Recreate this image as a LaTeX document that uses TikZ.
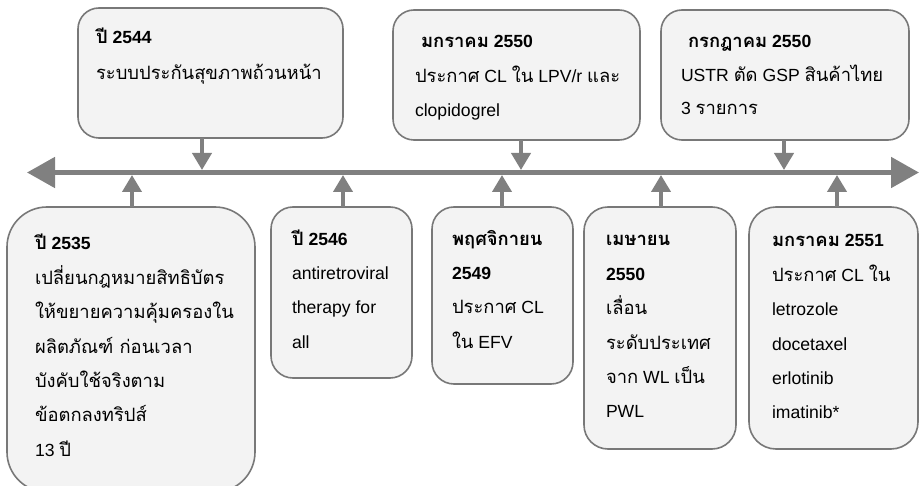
\documentclass[tikz,border=0pt]{standalone}
\usepackage{fontspec}
\setmainfont{Liberation Sans}
\newfontfamily\thaifont[Script=Thai,Scale=1.045]{Loma}
\usetikzlibrary{arrows.meta}
\definecolor{linegray}{HTML}{808080}
\definecolor{boxfill}{HTML}{F3F3F3}
\definecolor{boxline}{HTML}{787878}
\newcommand\tha[1]{{\thaifont #1}}
\newcommand\lns[2][34.4pt]{\vtop{\baselineskip=#1\lineskiplimit=-100pt\lineskip=0pt\halign{##\hfil\cr#2\crcr}}}
\tikzset{
  evbox/.style={draw=boxline, line width=1.6pt, fill=boxfill, inner sep=0pt, outer sep=0pt, anchor=north west},
  txt/.style={anchor=base west, inner sep=0pt, outer sep=0pt, font=\fontsize{17.6}{34.4}\selectfont, text=black},
  axisline/.style={draw=linegray, line width=5pt, {Triangle[length=28pt,width=30pt]}-{Triangle[length=28pt,width=30pt]}},
  conn/.style={draw=linegray, line width=4pt, -{Triangle[length=17pt,width=19pt]}}
}
\begin{document}
\begin{tikzpicture}[x=1pt,y=-1pt]
\useasboundingbox (0,0) rectangle (920,486);
\clip (0,0) rectangle (920,486);
% axis
\coordinate (axL) at (27,172.5);
\coordinate (axR) at (919,172.5);
\draw[axisline] (axL) -- (axR);
% top boxes
\node[evbox, rounded corners=21pt, minimum width=265pt, minimum height=130pt] (t1) at (78,8) {};
\node[evbox, rounded corners=21pt, minimum width=247pt, minimum height=130pt] (t2) at (393,10) {};
\node[evbox, rounded corners=21pt, minimum width=248pt, minimum height=130pt] (t3) at (661,10) {};
% bottom boxes
\node[evbox, rounded corners=40pt, minimum width=248pt, minimum height=285pt] (b1) at (7,207) {};
\node[evbox, rounded corners=22pt, minimum width=141pt, minimum height=171pt] (b2) at (271,207) {};
\node[evbox, rounded corners=22pt, minimum width=141pt, minimum height=177pt] (b3) at (432,207) {};
\node[evbox, rounded corners=24pt, minimum width=152pt, minimum height=242pt] (b4) at (584,207) {};
\node[evbox, rounded corners=27pt, minimum width=169pt, minimum height=242pt] (b5) at (749,207) {};
% arrow end points on the axis
\coordinate (p1) at (202,170);
\coordinate (p2) at (521,170);
\coordinate (p3) at (784,170);
\coordinate (q1) at (132,175);
\coordinate (q2) at (343,175);
\coordinate (q3) at (502,175);
\coordinate (q4) at (661,175);
\coordinate (q5) at (837,175);
\draw[conn] (t1.south -| p1) -- (p1);
\draw[conn] (t2.south -| p2) -- (p2);
\draw[conn] (t3.south -| p3) -- (p3);
\draw[conn] (b1.north -| q1) -- (q1);
\draw[conn] (b2.north -| q2) -- (q2);
\draw[conn] (b3.north -| q3) -- (q3);
\draw[conn] (b4.north -| q4) -- (q4);
\draw[conn] (b5.north -| q5) -- (q5);
% texts
\node[txt] (t1t) at (96,44) {\lns[36pt]{\bfseries\tha{ปี} 2544\cr \tha{ระบบประกันสุขภาพถ้วนหน้า}}};
\node[txt] (t2t) at (415,48) {\lns{\hspace*{6pt}\bfseries\tha{มกราคม} 2550\cr \tha{ประกาศ} CL \tha{ใน} LPV/r \tha{และ}\cr clopidogrel}};
\node[txt] (t3t) at (681,48) {\lns[33.5pt]{\hspace*{7pt}\bfseries\tha{กรกฎาคม} 2550\cr USTR \tha{ตัด} GSP \tha{สินค้าไทย}\cr 3 \tha{รายการ}}};
\node[txt] (b1t) at (35,250) {\lns{\bfseries\tha{ปี} 2535\cr \tha{เปลี่ยนกฎหมายสิทธิบัตร}\cr \tha{ให้ขยายความคุ้มครองใน}\cr \tha{ผลิตภัณฑ์ ก่อนเวลา}\cr \tha{บังคับใช้จริงตาม}\cr \tha{ข้อตกลงทริปส์}\cr 13 \tha{ปี}}};
\node[txt] (b2t) at (292,245) {\lns{\bfseries\tha{ปี} 2546\cr antiretroviral\cr therapy for\cr all}};
\node[txt] (b3t) at (452,245) {\lns{\bfseries\tha{พฤศจิกายน}\cr \bfseries 2549\cr \tha{ประกาศ} CL\cr \tha{ใน} EFV}};
\node[txt] (b4t) at (606,246) {\lns{\bfseries\tha{เมษายน}\cr \bfseries 2550\cr \tha{เลื่อน}\cr \tha{ระดับประเทศ}\cr \tha{จาก} WL \tha{เป็น}\cr PWL}};
\node[txt] (b5t) at (772,247) {\lns{\bfseries\tha{มกราคม} 2551\cr \tha{ประกาศ} CL \tha{ใน}\cr letrozole\cr docetaxel\cr erlotinib\cr imatinib*}};
\end{tikzpicture}
\end{document}
